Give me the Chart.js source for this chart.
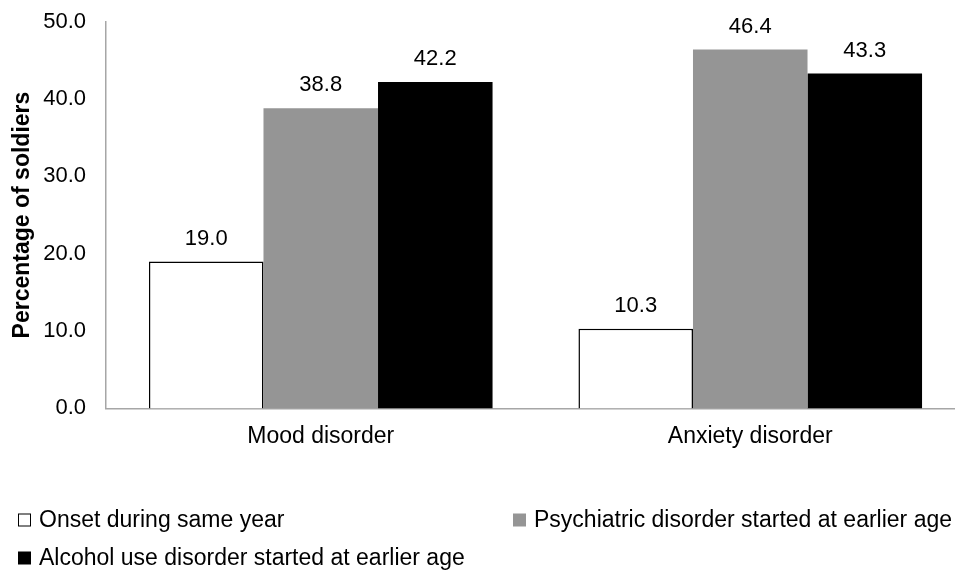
<!DOCTYPE html>
<html>
<head>
<meta charset="utf-8">
<script src="https://cdn.jsdelivr.net/npm/chart.js@4/dist/chart.umd.min.js"></script>
<style>
  html, body { margin: 0; padding: 0; background: #fff; overflow: hidden; }
  #wrap { width: 975px; height: 576px; }
</style>
</head>
<body>
<div id="wrap"><canvas id="c" width="975" height="576"></canvas></div>
<script>
// Disorder categories along the x axis
const categories = ['Mood disorder', 'Anxiety disorder'];

// Percentage of soldiers by timing of onset
const sameYear = [19.0, 10.3];
const psychiatricEarlier = [38.8, 46.4];
const alcoholEarlier = [42.2, 43.3];

const seriesNames = [
  'Onset during same year',
  'Psychiatric disorder started at earlier age',
  'Alcohol use disorder started at earlier age'
];

const yTicks = [0, 10, 20, 30, 40, 50];

const FONT = '"Liberation Sans", Arial, sans-serif';

// Value labels above each bar
const valueLabels = {
  id: 'valueLabels',
  afterDatasetsDraw(chart) {
    const ctx = chart.ctx;
    ctx.save();
    ctx.font = '22px ' + FONT;
    ctx.fillStyle = '#000';
    ctx.textAlign = 'center';
    ctx.textBaseline = 'middle';
    chart.data.datasets.forEach((ds, i) => {
      chart.getDatasetMeta(i).data.forEach((bar, j) => {
        ctx.fillText(ds.data[j].toFixed(1), bar.x, bar.y - 23);
      });
    });
    ctx.restore();
  }
};

// Two-row legend underneath the plot
const bottomLegend = {
  id: 'bottomLegend',
  afterDraw(chart) {
    const ctx = chart.ctx;
    const spots = [[18, 520], [513, 520], [18, 558]];
    ctx.save();
    ctx.font = '23px ' + FONT;
    ctx.textBaseline = 'middle';
    ctx.textAlign = 'left';
    chart.data.datasets.forEach((ds, i) => {
      const [x, y] = spots[i];
      ctx.fillStyle = ds.backgroundColor;
      ctx.fillRect(x, y - 6.5, 13, 13);
      if (ds.borderWidth) {
        ctx.strokeStyle = ds.borderColor;
        ctx.lineWidth = 1;
        ctx.strokeRect(x + 0.5, y - 6, 12, 12);
      }
      ctx.fillStyle = '#000';
      ctx.fillText(ds.label, x + 21, y + 1);
    });
    ctx.restore();
  }
};

new Chart(document.getElementById('c'), {
  type: 'bar',
  data: {
    labels: categories,
    datasets: [
      { label: seriesNames[0], data: sameYear, backgroundColor: '#ffffff', borderColor: '#000000', borderWidth: 1.5 },
      { label: seriesNames[1], data: psychiatricEarlier, backgroundColor: '#959595', borderWidth: 0 },
      { label: seriesNames[2], data: alcoholEarlier, backgroundColor: '#000000', borderWidth: 0 }
    ]
  },
  options: {
    responsive: false,
    animation: false,
    events: [],
    layout: { padding: { top: 21.7, right: 10, left: 0, bottom: 0 } },
    datasets: { bar: { categoryPercentage: 0.8, barPercentage: 1.0 } },
    plugins: { legend: { display: false }, tooltip: { enabled: false } },
    scales: {
      x: {
        grid: { display: false, drawTicks: false },
        border: { display: true, color: '#a6a6a6', width: 1.5 },
        ticks: { color: '#000', font: { family: FONT, size: 23 }, padding: 14 },
        afterFit(scale) { scale.height = 576 - 408.4; }
      },
      y: {
        min: 0,
        max: 50,
        afterBuildTicks(scale) { scale.ticks = yTicks.map(v => ({ value: v })); },
        grid: { display: false, drawTicks: false },
        border: { display: true, color: '#a6a6a6', width: 1.5 },
        ticks: {
          color: '#000',
          font: { family: FONT, size: 22 },
          padding: 20,
          callback: v => Number(v).toFixed(1)
        },
        title: {
          display: true,
          text: 'Percentage of soldiers',
          color: '#000',
          font: { family: FONT, size: 23, weight: 'bold' },
          padding: { top: 9, bottom: 0 }
        },
        afterFit(scale) {
          scale.width = 106;
          scale.paddingTop = 0;
          scale.paddingBottom = 0;
        }
      }
    }
  },
  plugins: [valueLabels, bottomLegend]
});
</script>
</body>
</html>
